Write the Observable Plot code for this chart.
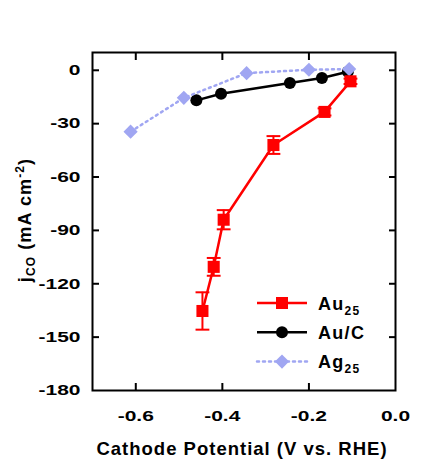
<!DOCTYPE html>
<html>
<head>
<meta charset="utf-8">
<script src="https://cdn.jsdelivr.net/npm/d3@7"></script>
<script src="https://cdn.jsdelivr.net/npm/@observablehq/plot@0.6"></script>
<style>
  html, body { margin: 0; padding: 0; background: white; }
  #chart { width: 423px; height: 465px; }
</style>
</head>
<body>
<div id="chart"></div>
<script>
// Au25 (red squares, with error bars)
const au25X = [-0.104, -0.164, -0.282, -0.397, -0.420, -0.446];
const au25Y = [-6.2, -23.4, -42.0, -84.0, -110.5, -135.3];
const au25Err = [1.5, 2.0, 5.0, 5.4, 5.0, 10.5];
// Au/C (black circles)
const aucX = [-0.460, -0.403, -0.244, -0.170, -0.110];
const aucY = [-16.9, -13.2, -7.1, -4.3, -0.8];
// Ag25 (light blue diamonds, dotted)
const ag25X = [-0.612, -0.489, -0.344, -0.200, -0.107];
const ag25Y = [-34.5, -15.5, -1.6, 0.3, 0.7];

const xTickLabels = [-0.6, -0.4, -0.2, 0.0];
const xTickMarks = [-0.6, -0.4, -0.2];
const yTickLabels = [0, -30, -60, -90, -120, -150, -180];
const yTickMarks = [0, -30, -60, -90, -120, -150];

const RED = "#ff0000", BLACK = "#000000", BLUE = "#a0a6f2";
const FONT = "'Liberation Sans', Arial, sans-serif";

const au25 = au25X.map((x, i) => ({x, y: au25Y[i], lo: au25Y[i] - au25Err[i], hi: au25Y[i] + au25Err[i]}));
const auc = aucX.map((x, i) => ({x, y: aucY[i]}));
const ag25 = ag25X.map((x, i) => ({x, y: ag25Y[i]}));

const capSymbol = {
  draw(ctx, size) {
    const w = Math.sqrt(size);
    ctx.moveTo(-w, 0);
    ctx.lineTo(w, 0);
  }
};

const plot = Plot.plot({
  width: 423,
  height: 465,
  marginLeft: 92,
  marginRight: 28,
  marginTop: 52,
  marginBottom: 75,
  style: {fontFamily: FONT, fontSize: "15px", fontWeight: "bold", background: "white", color: "black"},
  x: {domain: [-0.7, 0]},
  y: {domain: [-180, 10]},
  marks: [
    // axes: labels
    Plot.axisX(xTickLabels, {anchor: "bottom", tickSize: 0, tickPadding: 20, tickFormat: d => d.toFixed(1), label: null, fontSize: 15, fontWeight: "bold"}),
    Plot.axisY(yTickLabels, {anchor: "left", tickSize: 0, tickPadding: 12, tickFormat: d => String(d), label: null, fontSize: 15, fontWeight: "bold"}),
    // inward tick marks
    Plot.axisX(xTickMarks, {anchor: "bottom", tickSize: -7, strokeWidth: 2, tickFormat: () => "", label: null}),
    Plot.axisX(xTickMarks, {anchor: "top", tickSize: -7, strokeWidth: 2, tickFormat: () => "", label: null}),
    Plot.axisY(yTickMarks, {anchor: "left", tickSize: -7, strokeWidth: 2, tickFormat: () => "", label: null}),
    Plot.axisY(yTickMarks, {anchor: "right", tickSize: -7, strokeWidth: 2, tickFormat: () => "", label: null}),
    // Au/C
    Plot.line(auc, {x: "x", y: "y", stroke: BLACK, strokeWidth: 2.5}),
    Plot.dot(auc, {x: "x", y: "y", symbol: "circle", r: 6, fill: BLACK, stroke: "none"}),
    // Ag25
    Plot.line(ag25, {x: "x", y: "y", stroke: BLUE, strokeWidth: 2.5, strokeDasharray: "2,4", strokeLinecap: "round"}),
    Plot.dot(ag25, {x: "x", y: "y", symbol: "diamond2", r: 6.4, fill: BLUE, stroke: "none"}),
    // Au25
    Plot.ruleX(au25, {x: "x", y1: "lo", y2: "hi", stroke: RED, strokeWidth: 2}),
    Plot.dot(au25, {x: "x", y: "lo", symbol: capSymbol, r: 3.9, stroke: RED, strokeWidth: 2, fill: "none"}),
    Plot.dot(au25, {x: "x", y: "hi", symbol: capSymbol, r: 3.9, stroke: RED, strokeWidth: 2, fill: "none"}),
    Plot.line(au25, {x: "x", y: "y", stroke: RED, strokeWidth: 2.5}),
    Plot.dot(au25, {x: "x", y: "y", symbol: "square", r: 6.8, fill: RED, stroke: "none"}),
    Plot.frame({stroke: BLACK, strokeWidth: 2})
  ]
});

document.getElementById("chart").appendChild(plot);

const svg = d3.select(plot);
const SVGNS = "http://www.w3.org/2000/svg";

// the reference's tick numerals are horizontally wide: stretch each about its anchor
function stretchText(el, s, anchor) {
  const r = el.getBoundingClientRect();
  if (!r.width) return;
  const parent = el.parentNode;
  const ax = anchor === "end" ? r.right : anchor === "start" ? r.left : r.left + r.width / 2;
  const pt = plot.createSVGPoint();
  pt.x = ax; pt.y = r.top;
  const p = pt.matrixTransform(parent.getScreenCTM().inverse());
  const g = document.createElementNS(SVGNS, "g");
  parent.insertBefore(g, el);
  g.appendChild(el);
  g.setAttribute("transform", `translate(${p.x},0) scale(${s},1) translate(${-p.x},0)`);
}
plot.querySelectorAll('g[aria-label="x-axis tick label"] text').forEach(el => stretchText(el, 1.4, "middle"));
plot.querySelectorAll('g[aria-label="y-axis tick label"] text').forEach(el => stretchText(el, 1.4, "end"));

// y-axis title: j_CO (mA cm^-2)
const yt = svg.append("text")
  .attr("transform", "translate(31,220) rotate(-90)")
  .attr("text-anchor", "middle")
  .attr("font-family", FONT)
  .attr("font-weight", "bold")
  .attr("font-size", 18)
  .attr("letter-spacing", 1.1)
  .attr("fill", "black");
yt.append("tspan").text("j");
yt.append("tspan").attr("font-size", 12).attr("dy", 4).text("CO");
yt.append("tspan").attr("dy", -4).text(" (mA cm");
yt.append("tspan").attr("font-size", 12).attr("dy", -7).text("-2");
yt.append("tspan").attr("dy", 7).text(")");

// x-axis title
svg.append("text")
  .attr("x", 242)
  .attr("y", 455)
  .attr("text-anchor", "middle")
  .attr("font-family", FONT)
  .attr("font-weight", "bold")
  .attr("font-size", 18.5)
  .attr("letter-spacing", 1)
  .attr("fill", "black")
  .text("Cathode Potential (V vs. RHE)");

// legend
const legendItems = [
  {name: "Au", sub: "25", color: RED, symbol: d3.symbolSquare, size: 144, dash: null},
  {name: "Au/C", sub: "", color: BLACK, symbol: d3.symbolCircle, size: 113, dash: null},
  {name: "Ag", sub: "25", color: BLUE, symbol: d3.symbolDiamond2, size: 128, dash: "2,4"}
];
const lg = svg.append("g").attr("transform", "translate(257,303)");
legendItems.forEach((it, i) => {
  const g = lg.append("g").attr("transform", `translate(0,${i * 29.3})`);
  g.append("line").attr("x1", 0).attr("x2", 50).attr("y1", 0).attr("y2", 0)
    .attr("stroke", it.color).attr("stroke-width", 2.5)
    .attr("stroke-dasharray", it.dash).attr("stroke-linecap", it.dash ? "round" : null);
  g.append("path").attr("d", d3.symbol(it.symbol, it.size)()).attr("transform", "translate(25,0)").attr("fill", it.color);
  const t = g.append("text").attr("x", 61).attr("y", 6.5)
    .attr("text-anchor", "start")
    .attr("font-family", FONT).attr("font-weight", "bold").attr("font-size", 18)
    .attr("letter-spacing", 1.3).attr("fill", "black");
  t.append("tspan").text(it.name);
  if (it.sub) t.append("tspan").attr("font-size", 12).attr("dy", 5).text(it.sub);
});
</script>
</body>
</html>
